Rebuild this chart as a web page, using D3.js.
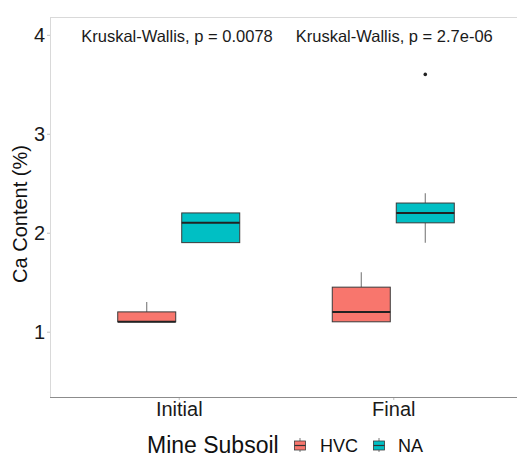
<!DOCTYPE html>
<html>
<head>
<meta charset="utf-8">
<script src="https://cdn.jsdelivr.net/npm/d3@7"></script>
<style>
  body { margin: 0; background: #fff; }
  svg { display: block; font-family: "Liberation Sans", Arial, sans-serif; }
</style>
</head>
<body>
<svg id="chart" width="517" height="458"></svg>
<script>
// ---- data ----
const stages = ["Initial", "Final"];
const soils = ["HVC", "NA"];
const soilColors = ["#F8766D", "#00BFC4"];
// box statistics per box
const boxStage = ["Initial", "Initial", "Final", "Final"];
const boxSoil = ["HVC", "NA", "HVC", "NA"];
const boxLow = [1.1, 1.9, 1.1, 1.9];
const boxQ1 = [1.1, 1.9, 1.1, 2.1];
const boxMed = [1.1, 2.1, 1.2, 2.2];
const boxQ3 = [1.2, 2.2, 1.45, 2.3];
const boxHigh = [1.3, 2.2, 1.6, 2.4];
const outStage = ["Final"];
const outSoil = ["NA"];
const outVal = [3.6];
const yTicks = [1, 2, 3, 4];
const pLabels = ["Kruskal-Wallis, p = 0.0078", "Kruskal-Wallis, p = 2.7e-06"];
const pLabelY = 4;

const svg = d3.select("#chart");
const L = 50, R = 522, T = 17, B = 397;

const x = d3.scalePoint().domain(stages).range([L, R]).padding(0.6);
const dodge = d3.scalePoint().domain(soils).range([-32, 32]);
const boxW = 58;
const y = d3.scaleLinear().domain([0.34, 4.18]).range([B, T]);
const color = d3.scaleOrdinal().domain(soils).range(soilColors);

// panel border lines
svg.append("line").attr("x1", L).attr("x2", 517).attr("y1", T + 0.5).attr("y2", T + 0.5)
  .attr("stroke", "#d9d9d9").attr("stroke-width", 1);
svg.append("line").attr("x1", L + 0.5).attr("x2", L + 0.5).attr("y1", T).attr("y2", B)
  .attr("stroke", "#d9d9d9").attr("stroke-width", 1);

// y axis
const yAxis = d3.axisLeft(y).tickValues(yTicks).tickFormat(d3.format("d")).tickSize(3).tickPadding(2);
const gy = svg.append("g").attr("transform", `translate(${L},0)`).call(yAxis);
gy.select(".domain").remove();
gy.selectAll(".tick line").attr("stroke", "#bdbdbd");
gy.selectAll(".tick text").attr("font-size", 20).attr("fill", "#1a1a1a")
  .attr("font-family", "'Liberation Sans', Arial, sans-serif");

// x axis
const xAxis = d3.axisBottom(x).tickSize(3).tickPadding(2);
const gx = svg.append("g").attr("transform", `translate(0,${B})`).call(xAxis);
gx.select(".domain").remove();
gx.selectAll(".tick line").attr("stroke", "#bdbdbd");
gx.selectAll(".tick text").attr("font-size", 20).attr("fill", "#1a1a1a")
  .attr("font-family", "'Liberation Sans', Arial, sans-serif");
svg.append("line").attr("x1", L).attr("x2", 517).attr("y1", B + 0.5).attr("y2", B + 0.5)
  .attr("stroke", "#8c8c8c").attr("stroke-width", 1);

// y title
svg.append("text").attr("transform", `translate(27,${(T + B) / 2 + 7}) rotate(-90)`)
  .attr("text-anchor", "middle").attr("font-size", 20).attr("fill", "#111")
  .text("Ca Content (%)");

// boxes
const boxes = boxStage.map((s, i) => ({
  stage: s, soil: boxSoil[i], lo: boxLow[i], q1: boxQ1[i], med: boxMed[i], q3: boxQ3[i], hi: boxHigh[i]
}));
const g = svg.append("g");
boxes.forEach(b => {
  const cx = x(b.stage) + dodge(b.soil);
  g.append("line").attr("x1", cx).attr("x2", cx).attr("y1", y(b.q3)).attr("y2", y(b.hi))
    .attr("stroke", "#7a7a7a").attr("stroke-width", 1.1);
  g.append("line").attr("x1", cx).attr("x2", cx).attr("y1", y(b.q1)).attr("y2", y(b.lo))
    .attr("stroke", "#7a7a7a").attr("stroke-width", 1.1);
  g.append("rect").attr("x", cx - boxW / 2).attr("width", boxW)
    .attr("y", y(b.q3)).attr("height", y(b.q1) - y(b.q3))
    .attr("fill", color(b.soil)).attr("stroke", "#3a3a3a").attr("stroke-width", 1);
  g.append("line").attr("x1", cx - boxW / 2).attr("x2", cx + boxW / 2)
    .attr("y1", y(b.med)).attr("y2", y(b.med))
    .attr("stroke", "#222").attr("stroke-width", 2);
});
outVal.forEach((v, i) => {
  g.append("circle").attr("cx", x(outStage[i]) + dodge(outSoil[i])).attr("cy", y(v))
    .attr("r", 1.8).attr("fill", "#222");
});

// p-value labels
pLabels.forEach((t, i) => {
  svg.append("text").attr("x", x(stages[i]) - 97.5).attr("y", y(pLabelY) + 7)
    .attr("font-size", 16.5).attr("fill", "#1a1a1a").text(t);
});

// legend
const leg = svg.append("g");
const legY = 445;
leg.append("text").attr("x", 147).attr("y", legY + 8).attr("font-size", 23).attr("fill", "#111")
  .text("Mine Subsoil");
const keyX = [300, 379];
const labX = [320, 398];
soils.forEach((s, i) => {
  const kx = keyX[i];
  leg.append("line").attr("x1", kx).attr("x2", kx).attr("y1", legY - 7).attr("y2", legY + 7)
    .attr("stroke", "#7a7a7a").attr("stroke-width", 1);
  leg.append("rect").attr("x", kx - 5.5).attr("y", legY - 4).attr("width", 11).attr("height", 9)
    .attr("fill", color(s)).attr("stroke", "#3a3a3a").attr("stroke-width", 0.8);
  leg.append("line").attr("x1", kx - 5.5).attr("x2", kx + 5.5).attr("y1", legY + 0.5).attr("y2", legY + 0.5)
    .attr("stroke", "#333").attr("stroke-width", 1.2);
  leg.append("text").attr("x", labX[i]).attr("y", legY + 7).attr("font-size", 18).attr("fill", "#111")
    .text(s);
});
</script>
</body>
</html>
